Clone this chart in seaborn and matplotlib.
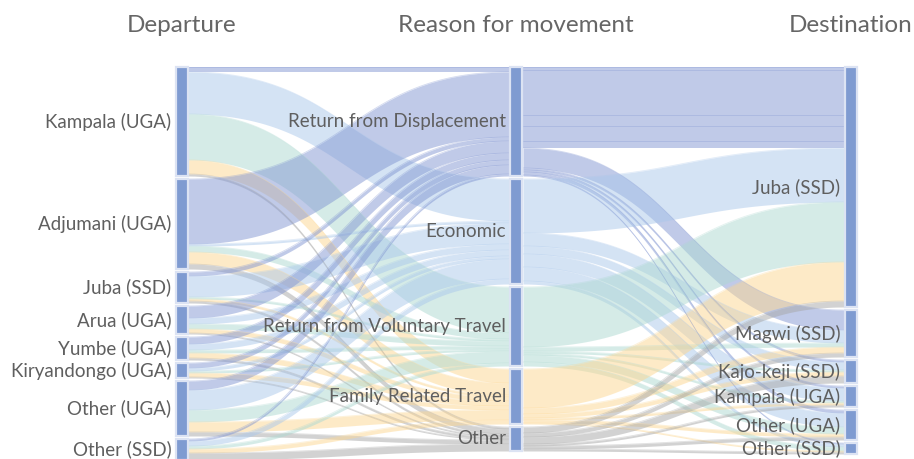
import numpy as np
import matplotlib
matplotlib.use("Agg")
import matplotlib.pyplot as plt
from matplotlib.patches import Rectangle
import seaborn as sns

# Nodes of the three columns
departures = ["Kampala (UGA)", "Adjumani (UGA)", "Juba (SSD)", "Arua (UGA)", "Yumbe (UGA)",
              "Kiryandongo (UGA)", "Other (UGA)", "Other (SSD)"]
reasons = ["Return from Displacement", "Economic", "Return from Voluntary Travel",
           "Family Related Travel", "Other"]
destinations = ["Juba (SSD)", "Magwi (SSD)", "Kajo-keji (SSD)", "Kampala (UGA)",
                "Other (UGA)", "Other (SSD)"]
column_titles = ["Departure", "Reason for movement", "Destination"]

# Flows departure -> reason (rows follow departures, columns follow reasons)
dep_to_reason = [
    [5, 42, 46, 14, 2],
    [65, 2, 6, 12, 5],
    [4, 21, 2, 2, 2],
    [12, 6, 5, 4, 1],
    [7, 6, 3, 5, 2],
    [5, 3, 2, 4, 1],
    [9, 20, 12, 10, 4],
    [2, 5, 3, 4, 7],
]

# Flows reason -> destination (rows follow reasons, columns follow destinations)
reason_to_dest = [
    [81, 20, 2, 2, 3, 1],
    [54, 13, 8, 13, 14, 3],
    [60, 4, 2, 2, 7, 4],
    [39, 6, 4, 2, 3, 1],
    [6, 4, 7, 2, 3, 2],
]
# the Return from Displacement -> Juba flow comes as several records
rfd_juba_parts = [3, 45, 11, 15, 7]

reason_colors = ["#8296d2", "#aac8eb", "#add9d1", "#fdd791", "#a7a7a7"]
node_color = "#7f9bd1"
node_edge = "#dce3f3"

sns.set_theme(style="white")
plt.rcParams["font.family"] = ["Lato", "DejaVu Sans"]

# ---- build the link list -------------------------------------------------
columns = [departures, reasons, destinations]
links = []  # (col, source idx, target idx, value, colour idx)
for i, row in enumerate(dep_to_reason):
    for j, v in enumerate(row):
        if v > 0:
            links.append((0, i, j, v, j))
for i, row in enumerate(reason_to_dest):
    for j, v in enumerate(row):
        if i == 0 and j == 0:
            for p in rfd_juba_parts:
                links.append((1, i, j, p, i))
        elif v > 0:
            links.append((1, i, j, v, i))

# node values
node_val = [np.zeros(len(c)) for c in columns]
for col, s, t, v, _ in links:
    if col == 0:
        node_val[0][s] += v
    node_val[col + 1][t] += v

# ---- layout --------------------------------------------------------------
W, H = 914, 459
top, bottom, pad = 67, 460, 3
node_w = 12
col_x = [181.5, 516.0, 850.5]
ky = min((bottom - top - (len(c) - 1) * pad) / node_val[k].sum()
         for k, c in enumerate(columns))

node_y = []
for k, c in enumerate(columns):
    ys, y = [], top
    for v in node_val[k]:
        ys.append(y)
        y += v * ky + pad
    node_y.append(ys)

fig = plt.figure(figsize=(W / 100, H / 100), dpi=100)
ax = fig.add_axes([0, 0, 1, 1])
ax.set_xlim(0, W)
ax.set_ylim(H, 0)
ax.axis("off")


def ribbon(x0, x1, a0, b0, a1, b1, color):
    t = np.linspace(0, 1, 80)
    xm = (x0 + x1) / 2
    bx = (1 - t) ** 3 * x0 + 3 * (1 - t) ** 2 * t * xm + 3 * (1 - t) * t ** 2 * xm + t ** 3 * x1
    s = 3 * (1 - t) * t ** 2 + t ** 3
    ya = a0 + (a1 - a0) * s
    yb = b0 + (b1 - b0) * s
    ax.fill_between(bx, ya, yb, color=color, alpha=0.5, lw=0)
    # faint edge, like the seams between neighbouring links
    ax.plot(bx, ya, color=color, alpha=0.35, lw=0.6)


# stacking offsets: outgoing sorted by target position, incoming by source position
out_off = [list(ys) for ys in node_y]
in_off = [list(ys) for ys in node_y]
order_out = sorted(range(len(links)), key=lambda n: (links[n][0], links[n][1], links[n][2]))
starts = {}
for n in order_out:
    col, s, t, v, _ = links[n]
    starts[n] = out_off[col][s]
    out_off[col][s] += v * ky
order_in = sorted(range(len(links)), key=lambda n: (links[n][0], links[n][2], links[n][1]))
ends = {}
for n in order_in:
    col, s, t, v, _ = links[n]
    ends[n] = in_off[col + 1][t]
    in_off[col + 1][t] += v * ky

for n, (col, s, t, v, c) in enumerate(links):
    x0 = col_x[col] + node_w / 2 + 1
    x1 = col_x[col + 1] - node_w / 2 - 1
    h = v * ky
    ribbon(x0, x1, starts[n], starts[n] + h, ends[n], ends[n] + h, reason_colors[c])

# nodes and labels
for k, c in enumerate(columns):
    for i, name in enumerate(c):
        y0 = node_y[k][i]
        h = node_val[k][i] * ky
        ax.add_patch(Rectangle((col_x[k] - node_w / 2, y0), node_w, h,
                               facecolor=node_color, edgecolor=node_edge, lw=1.6, zorder=3))
        ax.text(col_x[k] - node_w / 2 - 4, y0 + h / 2, name, ha="right", va="center",
                fontsize=13.5, color="#5f5f5f", zorder=4)
    ax.text(col_x[k], 25, column_titles[k], ha="center", va="center",
            fontsize=17.5, color="#666666")

fig.savefig("out.png", dpi=100)
